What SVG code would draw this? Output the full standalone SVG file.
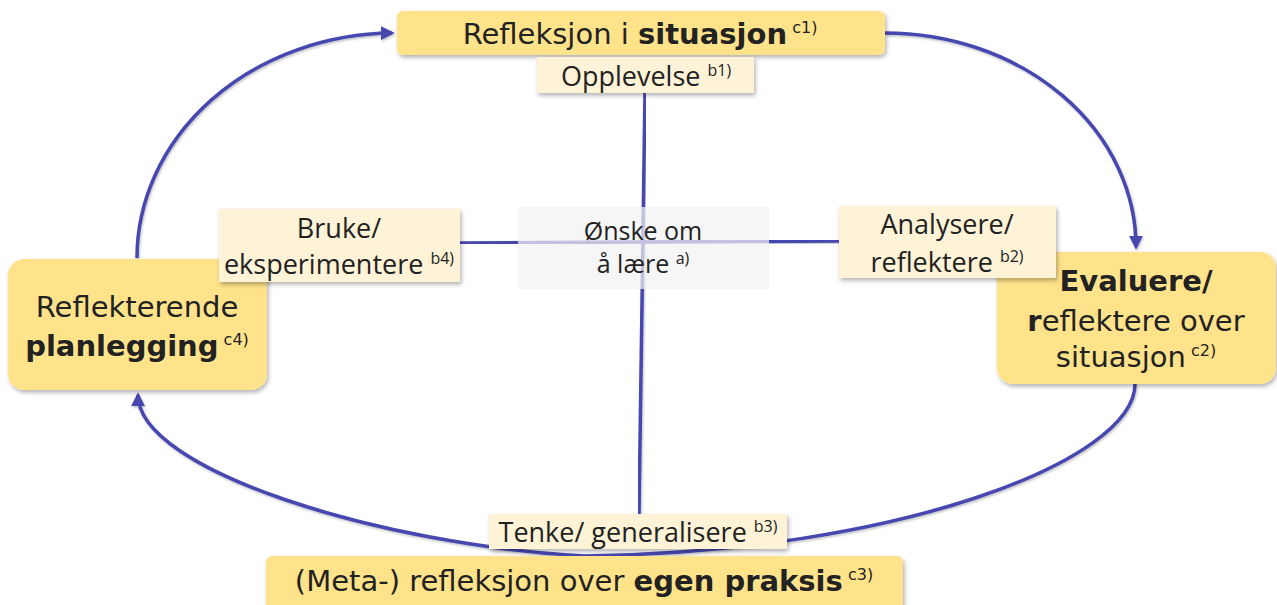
<svg xmlns="http://www.w3.org/2000/svg" width="1277" height="605" viewBox="0 0 1277 605">
<style>
.main{fill:#ffe38b;filter:url(#sh)}
.sub{fill:#fff3d7;filter:url(#sh)}
.ctr{fill:#f2f2f2;fill-opacity:0.72}
.comic{font-family:"DejaVu Sans","Noto Sans",sans-serif;fill:#222;text-anchor:middle}
.cal{font-family:"Open Sans","Liberation Sans",sans-serif;fill:#222;text-anchor:middle}
.b{font-weight:bold}
.sup{font-size:16px}
.con{fill:none;stroke:#4646b0;stroke-width:3.5;filter:url(#lsh)}
</style>
<defs>
<filter id="sh" x="-10%" y="-20%" width="120%" height="150%">
<feDropShadow dx="1.5" dy="2.5" stdDeviation="2" flood-color="#000" flood-opacity="0.3"/>
</filter>
<filter id="lsh" x="-10%" y="-10%" width="120%" height="120%">
<feDropShadow dx="1" dy="1.5" stdDeviation="1.2" flood-color="#000" flood-opacity="0.25"/>
</filter>
<marker id="ah" viewBox="0 0 10 10" refX="8" refY="5" markerWidth="4" markerHeight="4" orient="auto" markerUnits="strokeWidth">
<path d="M0,0 L10,5 L0,10 z" fill="#4646b0"/>
</marker>
</defs>
<rect width="1277" height="605" fill="#fff"/>
<g id="connectors">
<path class="con" d="M137,258 A258,225 0 0 1 392,33" marker-end="url(#ah)"/>
<path class="con" d="M885,33 A251,214 0 0 1 1136,247" marker-end="url(#ah)"/>
<path class="con" d="M1135,384 C1135,460 900,552 585,556"/>
<path class="con" d="M585,556 C380,545 138,470 138,395" marker-end="url(#ah)"/>
<path class="con" d="M645,93 L639,514"/>
<path class="con" d="M460,243 L839,241"/>
</g>
<g id="n-center">
<rect class="ctr" x="518" y="207" width="251" height="82"/>
<text class="cal" font-size="25"><tspan x="643" y="240">Ønske om</tspan><tspan x="643" y="273">å lære <tspan class="sup" dy="-9">a)</tspan></tspan></text>
</g>
<g id="n-c1">
<rect class="main" x="397" y="11" width="488" height="44" rx="6"/>
<text class="comic" font-size="29" x="640" y="44">Refleksjon i <tspan class="b">situasjon</tspan><tspan class="sup" dy="-11"> c1)</tspan></text>
</g>
<g id="n-b1">
<rect class="sub" x="537" y="57" width="217" height="36"/>
<text class="cal" font-size="27" x="646" y="86">Opplevelse <tspan class="sup" dy="-10">b1)</tspan></text>
</g>
<g id="n-c4">
<rect class="main" x="8" y="259" width="259" height="131" rx="16"/>
<text class="comic" font-size="29"><tspan x="137" y="317">Reflekterende</tspan><tspan x="137" y="356"><tspan class="b">planlegging</tspan><tspan class="sup" dy="-11"> c4)</tspan></tspan></text>
</g>
<g id="n-c2">
<rect class="main" x="997" y="252" width="279" height="132" rx="16"/>
<text class="comic" font-size="29"><tspan x="1136" y="291" class="b">Evaluere/</tspan><tspan x="1136" y="331"><tspan class="b">r</tspan>eflektere over</tspan><tspan x="1136" y="367">situasjon<tspan class="sup" dy="-11"> c2)</tspan></tspan></text>
</g>
<g id="n-b4">
<rect class="sub" x="219" y="209" width="241" height="73"/>
<text class="cal" font-size="27"><tspan x="339" y="238">Bruke/</tspan><tspan x="339" y="274">eksperimentere <tspan class="sup" dy="-10">b4)</tspan></tspan></text>
</g>
<g id="n-b2">
<rect class="sub" x="839" y="206" width="217" height="72"/>
<text class="cal" font-size="27"><tspan x="947" y="234">Analysere/</tspan><tspan x="947" y="272">reflektere <tspan class="sup" dy="-10">b2)</tspan></tspan></text>
</g>
<g id="n-b3">
<rect class="sub" x="489" y="514" width="298" height="35"/>
<text class="cal" font-size="27" x="638" y="542">Tenke/ generalisere <tspan class="sup" dy="-10">b3)</tspan></text>
</g>
<g id="n-c3">
<rect class="main" x="266" y="556" width="637" height="56" rx="6"/>
<text class="comic" font-size="29" x="584" y="591">(Meta-) refleksjon over <tspan class="b">egen praksis</tspan><tspan class="sup" dy="-11"> c3)</tspan></text>
</g>
</svg>
